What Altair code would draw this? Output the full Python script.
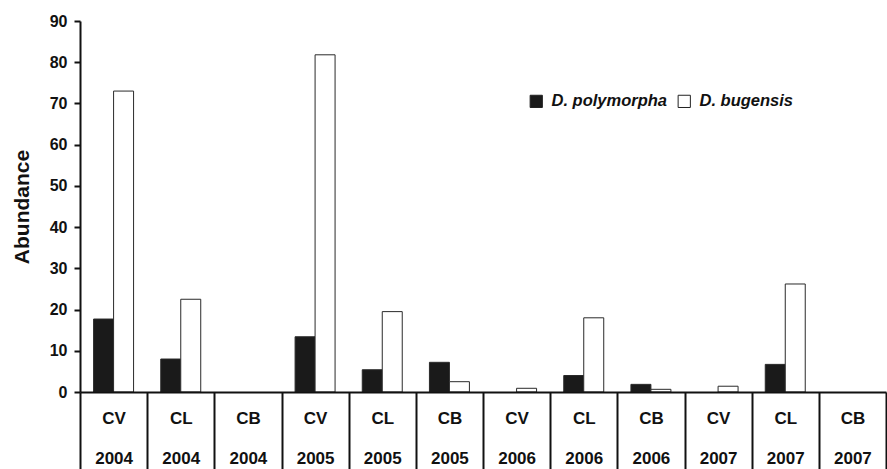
import altair as alt
import pandas as pd

# Site / year groups along the x axis
sites = ["CV", "CL", "CB", "CV", "CL", "CB", "CV", "CL", "CB", "CV", "CL", "CB"]
years = ["2004", "2004", "2004", "2005", "2005", "2005",
         "2006", "2006", "2006", "2007", "2007", "2007"]

# Mean abundance per group for each species
polymorpha = [17.7, 8.0, 0.0, 13.4, 5.4, 7.2, 0.0, 4.0, 1.85, 0.0, 6.7, 0.0]
bugensis = [73.0, 22.5, 0.0, 81.8, 19.5, 2.5, 0.9, 18.0, 0.65, 1.4, 26.2, 0.0]

species = ["D. polymorpha", "D. bugensis"]

groups = [f"{i:02d}|{s}|{y}" for i, (s, y) in enumerate(zip(sites, years))]

rows = []
for i, key in enumerate(groups):
    rows.append({"group": key, "species": species[0], "order": 0, "value": polymorpha[i]})
    rows.append({"group": key, "species": species[1], "order": 1, "value": bugensis[i]})
df = pd.DataFrame(rows)

FONT = "Liberation Sans"

bars = alt.Chart(df).mark_bar(stroke="#2a2a2a", strokeWidth=1).encode(
    x=alt.X(
        "group:N",
        sort=None,
        scale=alt.Scale(domain=groups, paddingInner=0, paddingOuter=0),
        axis=alt.Axis(
            title=None,
            labelExpr="slice(split(datum.label, '|'), 1)",
            labelAngle=0,
            labelFont=FONT,
            labelFontSize=17,
            labelFontWeight="bold",
            labelColor="#111",
            labelBaseline="top",
            labelLineHeight=40,
            labelPadding=-59,
            tickBand="extent",
            tickSize=77,
            tickWidth=2,
            tickColor="#111",
            domainWidth=2,
            domainColor="#111",
            zindex=1,
        ),
    ),
    xOffset=alt.XOffset(
        "species:N",
        sort=species,
        scale=alt.Scale(domain=species, paddingInner=0, paddingOuter=0.68),
    ),
    y=alt.Y(
        "value:Q",
        scale=alt.Scale(domain=[0, 90], nice=False),
        axis=alt.Axis(
            title="Abundance",
            values=list(range(0, 91, 10)),
            grid=False,
            labelFont=FONT,
            labelFontSize=16,
            labelFontWeight="bold",
            labelColor="#111",
            labelPadding=7,
            tickSize=6,
            tickWidth=2,
            tickColor="#111",
            domainWidth=2,
            domainColor="#111",
            titleFont=FONT,
            titleFontSize=21,
            titleFontWeight="bold",
            titleColor="#111",
            titlePadding=17,
            zindex=1,
        ),
    ),
    fill=alt.Fill(
        "species:N",
        sort=species,
        scale=alt.Scale(domain=species, range=["#1a1a1a", "#ffffff"]),
        legend=alt.Legend(
            title=None,
            orient="none",
            direction="horizontal",
            legendX=448,
            legendY=72,
            symbolType="square",
            symbolSize=150,
            symbolStrokeColor="#222",
            symbolStrokeWidth=1,
            labelFont=FONT,
            labelFontSize=16.5,
            labelFontWeight="bold",
            labelFontStyle="italic",
            labelColor="#111",
            labelOffset=7,
            columnPadding=8,
        ),
    ),
    order=alt.Order("order:Q"),
).transform_filter("datum.value > 0")

chart = bars.properties(
    width=806,
    height=371,
    background="white",
    padding={"left": 80, "top": 21, "right": 1, "bottom": 77},
    autosize=alt.AutoSizeParams(type="none"),
).configure_view(strokeWidth=0)

chart.save("out.html", embed_options={"renderer": "svg", "actions": False})
